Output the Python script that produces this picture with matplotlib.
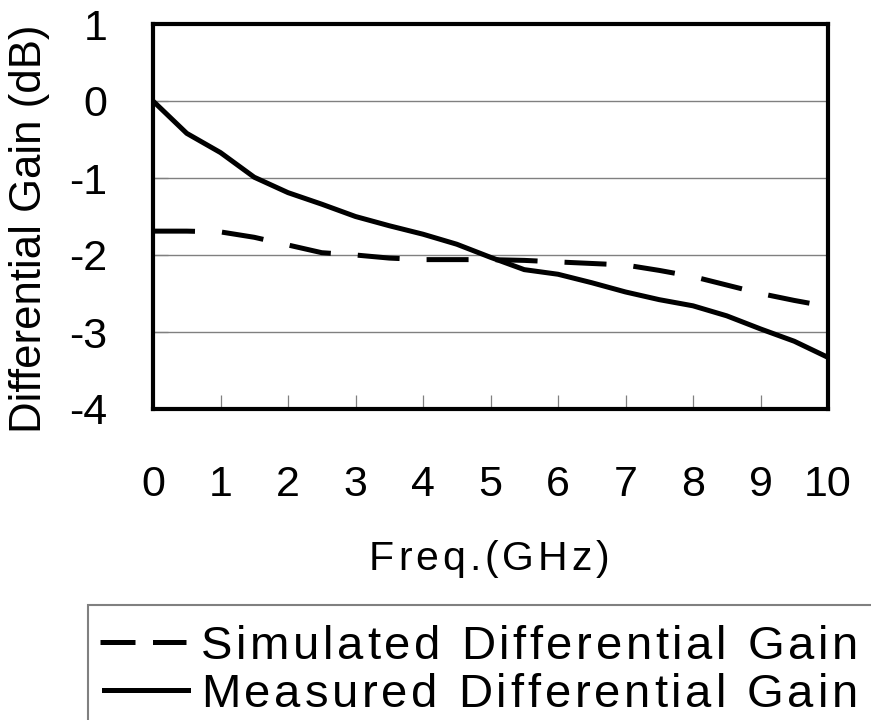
import matplotlib
matplotlib.use("Agg")
import matplotlib.pyplot as plt
from matplotlib import font_manager
from matplotlib.ft2font import FT2Font
from matplotlib.lines import Line2D
from matplotlib.patches import Rectangle

# ---------------- data ----------------
freq_ghz = [0, 0.5, 1, 1.5, 2, 2.5, 3, 3.5, 4, 4.5, 5,
            5.5, 6, 6.5, 7, 7.5, 8, 8.5, 9, 9.5, 10]
measured_db = [0.0, -0.42, -0.67, -0.99, -1.19, -1.34, -1.50, -1.62, -1.73, -1.86, -2.03,
               -2.19, -2.25, -2.36, -2.48, -2.58, -2.66, -2.79, -2.96, -3.12, -3.33]
simulated_db = [-1.69, -1.69, -1.70, -1.77, -1.87, -1.97, -2.00, -2.04, -2.06, -2.06, -2.06,
                -2.07, -2.09, -2.11, -2.13, -2.20, -2.28, -2.39, -2.50, -2.59, -2.67]
x_ticks = [0, 1, 2, 3, 4, 5, 6, 7, 8, 9, 10]
y_ticks = [-4, -3, -2, -1, 0, 1]
x_label = "Freq.(GHz)"
y_label = "Differential Gain (dB)"
legend_labels = ["Simulated Differential Gain", "Measured Differential Gain"]

# ---------------- setup ----------------
FONT = "Liberation Sans"
plt.rcParams["font.family"] = [FONT, "DejaVu Sans"]
W, H, DPI = 871, 720, 100
fig = plt.figure(figsize=(W / DPI, H / DPI), dpi=DPI)
fig.patch.set_facecolor("white")

L, R, T, B = 153, 828, 24, 409
ax = fig.add_axes([L / W, 1 - B / H, (R - L) / W, (B - T) / H])

LW = 3.6
ax.plot(freq_ghz, measured_db, color="black", lw=LW, solid_joinstyle="round", zorder=3)
ax.plot(freq_ghz, simulated_db, color="black", lw=LW, linestyle=(0, (8.4, 5.4)),
        dash_capstyle="butt", zorder=3)

ax.set_xlim(0, 10)
ax.set_ylim(-4, 1)
ax.set_xticks(x_ticks)
ax.set_yticks(y_ticks)
ax.set_xticklabels([str(v) for v in x_ticks])
ax.set_yticklabels([str(v) for v in y_ticks])
ax.yaxis.grid(True, color="#808080", lw=1.0)
ax.xaxis.grid(False)
ax.set_axisbelow(True)
for s in ax.spines.values():
    s.set_linewidth(3.0)
    s.set_color("black")
    s.set_zorder(4)
ax.tick_params(axis="x", direction="in", length=10, width=0.9, color="#808080",
               pad=40, labelsize=31)
ax.tick_params(axis="y", direction="in", length=11, width=0.9, color="#808080",
               pad=33, labelsize=31)

# ---------------- tracked text helper ----------------
_path = font_manager.findfont(font_manager.FontProperties(family=FONT))
_ft = FT2Font(_path)


def _advances(s, size):
    _ft.set_size(size, DPI)
    return [_ft.load_char(ord(c)).linearHoriAdvance / 65536 for c in s]


def tracked_text(x_left, baseline, s, size, target_width):
    adv = _advances(s, size)
    tracking = (target_width - sum(adv)) / max(len(s) - 1, 1)
    x = x_left
    for c, a in zip(s, adv):
        if c != " ":
            fig.text(x / W, 1 - baseline / H, c, fontsize=size, ha="left",
                     va="baseline", family=FONT, color="black")
        x += a + tracking


# axis labels
fig.text(30 / W, 1 - 229 / H, y_label, rotation=90, fontsize=31.5,
         ha="center", va="center", family=FONT)
tracked_text(369, 570, x_label, 29.5, 240)

# ---------------- legend ----------------
fig.patches.append(Rectangle((88 / W, -0.05), 1.0, (1 - 605 / H) + 0.05,
                             transform=fig.transFigure, fill=False,
                             edgecolor="#808080", lw=1.5))
row_centers = [642, 690]
row_base = [659, 707]
fig.lines.append(Line2D([100 / W, 186 / W], [1 - row_centers[0] / H] * 2,
                        transform=fig.transFigure, color="black", lw=LW,
                        linestyle=(0, (7.0, 3.5)), dash_capstyle="butt"))
fig.lines.append(Line2D([104 / W, 188 / W], [1 - row_centers[1] / H] * 2,
                        transform=fig.transFigure, color="black", lw=LW))
tracked_text(201, row_base[0], legend_labels[0], 34, 657)
tracked_text(201, row_base[1], legend_labels[1], 34, 657)

fig.savefig("out.png", dpi=DPI, facecolor="white")
